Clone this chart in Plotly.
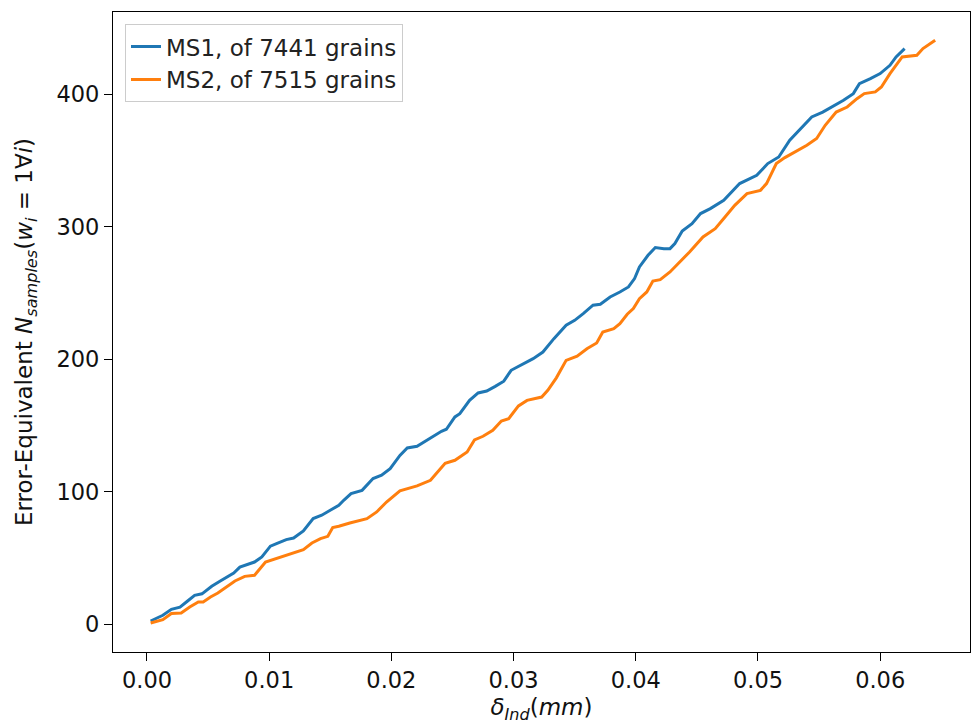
import plotly.graph_objects as go

# MS1 (blue)
ms1_x = [0.0003, 0.0013, 0.0020, 0.0027, 0.0033, 0.0039, 0.0045, 0.0053, 0.0060, 0.0065,
         0.0071, 0.0076, 0.0082, 0.0088, 0.0094, 0.0101, 0.0106, 0.0114, 0.0120, 0.0128,
         0.0136, 0.0143, 0.0151, 0.0157, 0.0161, 0.0167, 0.0176, 0.0185, 0.0192, 0.0199,
         0.0207, 0.0213, 0.0221, 0.0232, 0.0241, 0.0245, 0.0252, 0.0256, 0.0264, 0.0271,
         0.0278, 0.0285, 0.0292, 0.0298, 0.0306, 0.0316, 0.0324, 0.0333, 0.0343, 0.0350,
         0.0357, 0.0365, 0.0371, 0.0379, 0.0387, 0.0394, 0.0399, 0.0403, 0.0410, 0.0416,
         0.0423, 0.0428, 0.0432, 0.0438, 0.0446, 0.0453, 0.0461, 0.0472, 0.0485, 0.0499,
         0.0508, 0.0517, 0.0526, 0.0534, 0.0544, 0.0553, 0.0562, 0.0570, 0.0578, 0.0583,
         0.0592, 0.0600, 0.0608, 0.0613, 0.0620]
ms1_y = [2.5, 6.8, 11.3, 13.0, 17.4, 21.9, 23.0, 28.7, 32.7, 35.7,
         38.7, 43.2, 45.3, 47.0, 50.8, 59.0, 60.9, 63.9, 65.1, 70.4,
         79.8, 82.3, 86.6, 89.8, 93.6, 98.6, 101.1, 110.0, 112.5, 117.5,
         127.5, 133.1, 134.3, 140.9, 145.7, 147.2, 156.5, 159.0, 169.0, 174.6,
         176.1, 179.6, 183.5, 191.7, 195.5, 200.5, 205.5, 215.6, 225.7, 229.4,
         234.5, 240.8, 241.5, 247.0, 250.8, 254.6, 260.9, 269.7, 278.5, 284.3,
         283.5, 283.5, 287.3, 296.8, 302.4, 310.0, 313.7, 320.0, 332.6, 338.9,
         347.7, 352.7, 365.3, 372.8, 382.9, 386.6, 391.0, 395.5, 400.5, 408.0,
         411.8, 415.6, 421.9, 428.2, 434.5]

# MS2 (orange)
ms2_x = [0.0003, 0.0013, 0.0020, 0.0028, 0.0035, 0.0042, 0.0046, 0.0052, 0.0058, 0.0065,
         0.0072, 0.0080, 0.0088, 0.0097, 0.0103, 0.0112, 0.0120, 0.0128, 0.0135, 0.0142,
         0.0148, 0.0152, 0.0157, 0.0166, 0.0180, 0.0188, 0.0196, 0.0207, 0.0221, 0.0232,
         0.0244, 0.0252, 0.0262, 0.0268, 0.0275, 0.0283, 0.0290, 0.0296, 0.0304, 0.0311,
         0.0323, 0.0328, 0.0335, 0.0343, 0.0352, 0.0360, 0.0368, 0.0373, 0.0382, 0.0387,
         0.0393, 0.0398, 0.0403, 0.0409, 0.0414, 0.0420, 0.0428, 0.0436, 0.0444, 0.0455,
         0.0465, 0.0472, 0.0481, 0.0491, 0.0502, 0.0507, 0.0515, 0.0522, 0.0532, 0.0540,
         0.0548, 0.0555, 0.0564, 0.0573, 0.0581, 0.0587, 0.0596, 0.0601, 0.0608, 0.0618,
         0.0630, 0.0635, 0.0645]
ms2_y = [1.0, 3.5, 8.1, 8.5, 13.0, 16.8, 16.8, 20.6, 23.6, 28.2,
         32.7, 36.2, 37.0, 47.0, 48.8, 51.3, 53.8, 56.4, 61.4, 64.7,
         66.4, 73.0, 74.0, 76.5, 79.7, 84.8, 92.3, 100.8, 104.5, 108.7,
         121.5, 123.8, 130.0, 139.2, 141.9, 146.4, 153.4, 155.2, 164.8, 169.0,
         171.5, 176.6, 186.0, 199.2, 202.3, 208.0, 212.3, 220.6, 223.1, 226.9,
         234.0, 238.3, 245.8, 250.8, 259.1, 260.1, 265.9, 273.5, 281.0, 292.3,
         298.6, 306.2, 316.2, 325.0, 327.5, 332.6, 347.7, 352.2, 357.2, 361.5,
         366.6, 376.6, 386.6, 390.4, 396.7, 400.5, 401.8, 405.5, 415.6, 428.2,
         429.4, 434.5, 440.8]

series_names = ["MS1, of 7441 grains", "MS2, of 7515 grains"]
series_colors = ["#1f77b4", "#ff7f0e"]

x_ticks = [0.00, 0.01, 0.02, 0.03, 0.04, 0.05, 0.06]
y_ticks = [0, 100, 200, 300, 400]

FONT = "DejaVu Sans"

fig = go.Figure()
for xs, ys, name, col in [(ms1_x, ms1_y, series_names[0], series_colors[0]),
                          (ms2_x, ms2_y, series_names[1], series_colors[1])]:
    fig.add_trace(go.Scatter(x=xs, y=ys, mode="lines", name=name,
                             line=dict(color=col, width=3)))

axis_common = dict(showline=True, linecolor="black", linewidth=1.3, mirror=True,
                   ticks="outside", ticklen=8, tickwidth=1.3, tickcolor="black",
                   showgrid=False, zeroline=False,
                   tickfont=dict(family=FONT, size=22.5, color="#111"))

fig.update_xaxes(range=[-0.00278, 0.06735], tickvals=x_ticks,
                 ticktext=[f"{v:.2f}" for v in x_ticks],
                 title=dict(text="<i>δ</i><sub><i>Ind</i></sub>(<i>mm</i>)",
                            font=dict(family=FONT, size=23, color="#111"), standoff=9),
                 **axis_common)
fig.update_yaxes(range=[-20.9, 462.1], tickvals=y_ticks,
                 ticktext=[str(v) for v in y_ticks],
                 title=dict(text="Error-Equivalent <i>N</i><sub><i>samples</i></sub>(<i>w</i><sub><i>i</i></sub> = 1∀<i>i</i>)",
                            font=dict(family=FONT, size=23, color="#111"), standoff=17),
                 **axis_common)

fig.update_layout(
    width=971, height=724,
    margin=dict(l=113, r=1, t=12, b=72),
    paper_bgcolor="white", plot_bgcolor="white",
    font=dict(family=FONT, size=23, color="#111"),
    legend=dict(x=0.014, y=0.981, xanchor="left", yanchor="top",
                bgcolor="rgba(255,255,255,0.8)", bordercolor="#cccccc", borderwidth=1,
                font=dict(family=FONT, size=23, color="#222")),
    showlegend=True,
)

fig.write_html("out.html")
